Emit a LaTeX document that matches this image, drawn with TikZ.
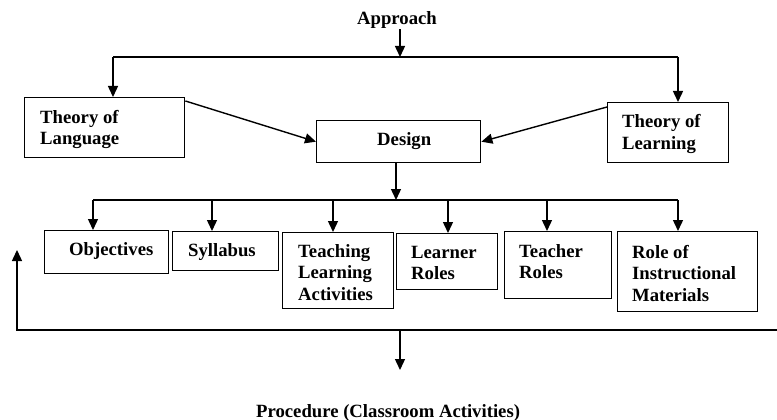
\documentclass[tikz,border=0pt]{standalone}
\usepackage{fontspec}
\setmainfont{Liberation Serif}
\usetikzlibrary{arrows.meta,calc}
\newcommand{\mylines}[1]{\begin{tabular}[t]{@{}l@{}}#1\end{tabular}}
\begin{document}
\begin{tikzpicture}[x=1pt,y=-1pt,
  box/.style={draw, line width=1.4pt, rectangle, anchor=north west, inner sep=0pt},
  txt/.style={font=\fontsize{18.7}{21.5}\selectfont\bfseries, inner sep=0pt, anchor=base west},
  ln/.style={line width=1.4pt},
  arr/.style={line width=1.4pt, -{Triangle[length=11pt,width=10pt]}}]
\useasboundingbox (0,0) rectangle (777,420);
% boxes
\node[box, minimum width=160pt, minimum height=60pt] (tl) at (24,97) {};
\node[box, minimum width=164pt, minimum height=42pt] (des) at (316,120) {};
\node[box, minimum width=121pt, minimum height=60pt] (tlr) at (607,102) {};
\node[box, minimum width=124pt, minimum height=43pt] (obj) at (44,230) {};
\node[box, minimum width=106pt, minimum height=39pt] (syl) at (172,231) {};
\node[box, minimum width=111pt, minimum height=76pt] (tla) at (282,232) {};
\node[box, minimum width=101pt, minimum height=56pt] (lr) at (396,233) {};
\node[box, minimum width=107pt, minimum height=67pt] (tr) at (504,231) {};
\node[box, minimum width=140pt, minimum height=80pt] (rim) at (617,231) {};
% texts
\node[txt] (appr) at (357,25) {Approach};
\node[txt] (tlt) at (40,123) {\mylines{Theory of\\Language}};
\node[txt] (dest) at (377,145) {Design};
\node[txt] (tlrt) at (622,128) {\mylines{Theory of\\Learning}};
\node[txt] (objt) at (69,255) {Objectives};
\node[txt] (sylt) at (188,256) {Syllabus};
\node[txt] (tlat) at (298,257) {\mylines{Teaching\\Learning\\Activities}};
\node[txt] (lrt) at (411,258) {\mylines{Learner\\Roles}};
\node[txt] (trt) at (519,257) {\mylines{Teacher\\Roles}};
\node[txt] (rimt) at (632,258) {\mylines{Role of\\Instructional\\Materials}};
\node[txt] (proc) at (256,417) {Procedure (Classroom Activities)};
% coordinates
\coordinate (tb) at (400,57);
\coordinate (tbl) at (113,57);
\coordinate (tbr) at (678,57);
\coordinate (mb) at (396,200);
\coordinate (mbl) at (93,200);
\coordinate (mbr) at (678,200);
\coordinate (fbr) at (777,330);
\coordinate (fbl) at (17,330);
\coordinate (fbt) at (17,250);
\coordinate (pd) at (400,330);
\coordinate (pe) at (400,370);
% top
\draw[arr] (appr.south -| tb) -- (tb);
\draw[ln] (tbl) -- (tbr);
\draw[arr] (tbl) -- (tbl |- tl.north);
\draw[arr] (tbr) -- (tbr |- tlr.north);
\draw[arr] ($(tl.north east)+(0,4)$) -- (des.west);
\draw[arr] ($(tlr.north west)+(0,5)$) -- (des.east);
% middle
\draw[arr] (des.south -| mb) -- (mb);
\draw[ln] (mbl) -- (mbr);
\draw[arr] (mbl) -- (mbl |- obj.north);
\draw[arr] (212,200) -- (212,0 |- syl.north);
\draw[arr] (333,200) -- (333,0 |- tla.north);
\draw[arr] (448,200) -- (448,0 |- lr.north);
\draw[arr] (547,200) -- (547,0 |- tr.north);
\draw[arr] (mbr) -- (mbr |- rim.north);
% feedback
\draw[arr] (fbr) -- (fbl) -- (fbt);
\draw[arr] (pd) -- (pe);
\end{tikzpicture}
\end{document}
